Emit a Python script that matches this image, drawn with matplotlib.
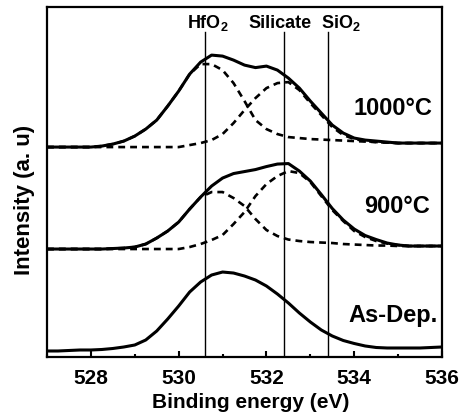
import numpy as np
import matplotlib
matplotlib.use("Agg")
import matplotlib.pyplot as plt
from matplotlib.ticker import MultipleLocator

plt.rcParams['font.family'] = ['Liberation Sans', 'DejaVu Sans']
plt.rcParams['font.weight'] = 'bold'
plt.rcParams['mathtext.fontset'] = 'custom'
plt.rcParams['mathtext.rm'] = 'Liberation Sans:bold'
plt.rcParams['mathtext.bf'] = 'Liberation Sans:bold'
plt.rcParams['mathtext.default'] = 'bf'

# binding energy grid (eV)
energy = [527.0, 527.25, 527.5, 527.75, 528.0, 528.25, 528.5, 528.75,
          529.0, 529.25, 529.5, 529.75, 530.0, 530.25, 530.5, 530.75,
          531.0, 531.25, 531.5, 531.75, 532.0, 532.25, 532.5, 532.75,
          533.0, 533.25, 533.5, 533.75, 534.0, 534.25, 534.5, 534.75,
          535.0, 535.25, 535.5, 535.75, 536.0]

# intensities (a.u., offset traces)
as_dep = [6, 6, 6.5, 7, 7, 7.5, 8.5, 10,
          12, 17, 26, 38, 51, 65, 75, 82,
          85, 84, 81, 77, 71, 63, 54, 44,
          35, 27, 21, 16.5, 13.5, 11, 9.5, 9,
          9, 9, 9, 9.5, 10]

t900 = [108, 108, 108, 108, 108, 108, 108.5, 109,
        110, 113, 119, 126, 135, 148, 160, 171,
        179, 183.5, 185.5, 187.5, 190.5, 193, 193.5, 186,
        176, 162.5, 148.5, 137, 128, 121.5, 117.5, 114,
        112, 111, 111, 111, 111]
t900_hfo2 = [108, 108, 108, 108, 108, 108, 108.5, 109,
             110, 113, 119, 126, 135, 148, 160, 165,
             165, 159, 151, 138, 127, 121, 117.5, 116,
             115, 114.5, 114, 113, 112.5, 112, 111.5, 111.5,
             111, 111, 111, 111, 111]
t900_sil = [108, 108, 108, 108, 108, 108, 108, 108,
            108, 108, 108, 108, 108, 110, 113, 117,
            122, 133, 145, 161, 173, 181, 186, 184,
            175, 161, 147, 136, 126, 120, 116, 113.5,
            112, 111, 111, 111, 111]

t1000 = [210, 210, 210, 210, 210, 211, 213, 216,
         221, 228, 237, 251, 266, 283, 295, 302,
         301, 297, 292, 289.5, 291, 287, 279, 269,
         256, 244, 232, 224, 219, 217, 216, 215,
         214, 214, 214, 214, 214]
t1000_hfo2 = [210, 210, 210, 210, 210, 211, 213, 216,
              221, 228, 237, 251, 266, 283, 293, 293,
              287, 274, 256, 237, 228, 223, 220, 219,
              218, 217.5, 217, 216.5, 216, 215.5, 215, 214.5,
              214, 214, 214, 214, 214]
t1000_sil = [210, 210, 210, 210, 210, 210, 210, 210,
             210, 210, 210, 210, 210, 212, 214, 217,
             223, 234, 247, 259, 269, 274, 275, 267,
             254, 242, 230, 222, 218, 216, 215, 214.5,
             214, 214, 214, 214, 214]

peak_pos = [530.6, 532.4, 533.4]
peak_names = ["HfO$_2$", "Silicate", "SiO$_2$"]
peak_label_x = [530.67, 532.3, 533.7]
trace_names = ["1000\u00b0C", "900\u00b0C", "As-Dep."]
trace_label_x = [535.77, 535.73, 535.89]
trace_label_y = [242, 144, 35]

fig = plt.figure(figsize=(4.66, 4.19), dpi=100)
ax = fig.add_axes([0.1009, 0.148, 0.8476, 0.835])

dash = (0, (2.6, 1.9))
ax.plot(energy, as_dep, color='black', lw=2.2)
ax.plot(energy, t900, color='black', lw=2.2)
ax.plot(energy, t900_hfo2, color='black', lw=1.9, ls=dash)
ax.plot(energy, t900_sil, color='black', lw=1.9, ls=dash)
ax.plot(energy, t1000, color='black', lw=2.2)
ax.plot(energy, t1000_hfo2, color='black', lw=1.9, ls=dash)
ax.plot(energy, t1000_sil, color='black', lw=1.9, ls=dash)

for xp in peak_pos:
    ax.plot([xp, xp], [0, 325], color='black', lw=1.0)

for xl, name in zip(peak_label_x, peak_names):
    ax.text(xl, 329, name, ha='center', va='baseline', fontsize=13,
            fontweight='bold')

for xl, yl, name in zip(trace_label_x, trace_label_y, trace_names):
    ax.text(xl, yl, name, ha='right', va='baseline', fontsize=17,
            fontweight='bold')

ax.set_xlim(527, 536)
ax.set_ylim(0, 350)
ax.xaxis.set_major_locator(MultipleLocator(2))
ax.xaxis.set_minor_locator(MultipleLocator(1))
ax.set_yticks([])
ax.tick_params(axis='x', which='major', direction='in', length=4, width=1.5,
               pad=9, labelsize=15)
ax.tick_params(axis='x', which='minor', direction='in', length=2.5, width=1.5)
for lab in ax.get_xticklabels():
    lab.set_fontweight('bold')
for sp in ax.spines.values():
    sp.set_linewidth(1.6)

fig.text(251 / 466, 1 - 408 / 419, "Binding energy (eV)", ha='center',
         va='baseline', fontsize=15, fontweight='bold')
fig.text(25 / 466, 1 - 200 / 419, "Intensity (a. u)", ha='center',
         va='center', rotation=90, fontsize=16, fontweight='bold')

fig.savefig("out.png", dpi=100)
